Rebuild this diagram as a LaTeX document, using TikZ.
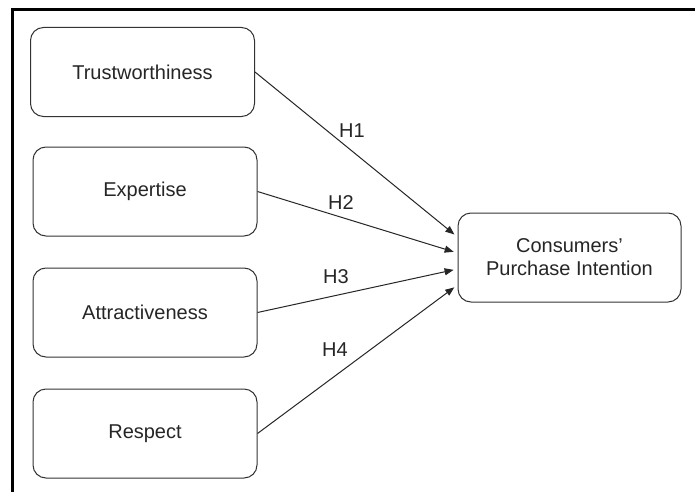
\documentclass[tikz,border=0pt]{standalone}
\usepackage{fontspec}
\setmainfont{Liberation Sans}
\usetikzlibrary{arrows.meta,calc}
\begin{document}
\begin{tikzpicture}[x=1pt,y=-1pt,
  box/.style={draw=black!80,line width=1pt,rounded corners=13pt,fill=white,
    minimum width=224pt,minimum height=89pt,inner sep=0pt,
    font=\fontsize{20}{23}\selectfont,text=black!85,align=center},
  conn/.style={draw=black!85,line width=1pt,-{Triangle[length=9pt,width=7pt]},shorten >=4pt},
  hlab/.style={font=\fontsize{20}{23}\selectfont,text=black!85,inner sep=0pt}]
\useasboundingbox (0,0) rectangle (695,492);
\fill[white] (0,0) rectangle (695,492);
\draw[line width=2.5pt,black] (695,9.5) -- (12.5,9.5) -- (12.5,492);
\node[box] (tw) at (142.5,72) {Trustworthiness};
\node[box] (ex) at (145,191.5) {Expertise};
\node[box] (at) at (145,312.5) {Attractiveness};
\node[box] (re) at (145,433.5) {Respect};
\node[box,minimum width=223pt] (cp) at (569.5,257.5) {Consumers’\\Purchase Intention};
\coordinate (t1) at ($(cp.west)+(0,-20.5)$);
\coordinate (t2) at ($(cp.west)+(0,-4.5)$);
\coordinate (t3) at ($(cp.west)+(0,11.5)$);
\coordinate (t4) at ($(cp.west)+(0,27.5)$);
\draw[conn] (tw.east) -- (t1);
\draw[conn] (ex.east) -- (t2);
\draw[conn] (at.east) -- (t3);
\draw[conn] (re.east) -- (t4);
\node[hlab] (h1) at (352,131) {H1};
\node[hlab] (h2) at (341,203) {H2};
\node[hlab] (h3) at (336,277) {H3};
\node[hlab] (h4) at (335,350) {H4};
\end{tikzpicture}
\end{document}
